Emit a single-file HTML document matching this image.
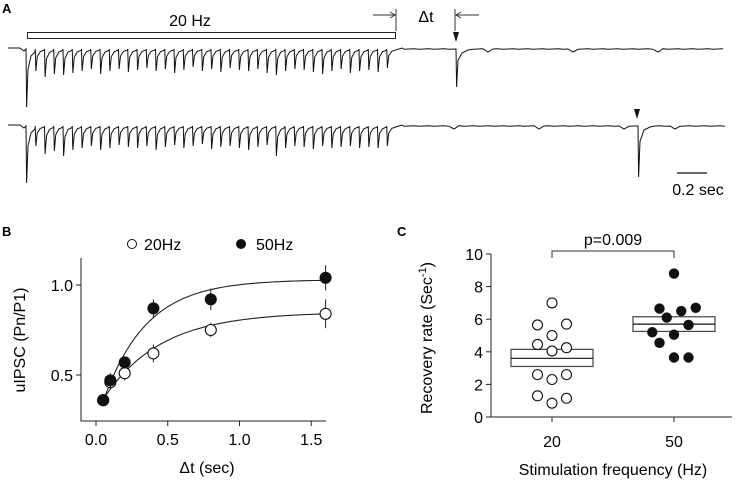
<!DOCTYPE html>
<html><head><meta charset="utf-8"><style>
body{margin:0;background:#fff}
svg{display:block;font-family:"Liberation Sans",sans-serif}
</style></head><body>
<svg id="fig" width="736" height="482" viewBox="0 0 736 482" xmlns="http://www.w3.org/2000/svg">
<g id="panelA">
<text x="2" y="13" font-size="13" font-weight="bold">A</text>
<rect x="27.5" y="32.5" width="368" height="6" fill="#fff" stroke="#222"/>
<text x="190" y="26" font-size="16" text-anchor="middle">20 Hz</text>
<line x1="396" y1="9" x2="396" y2="31" stroke="#333"/>
<line x1="373" y1="15" x2="395" y2="15" stroke="#333"/>
<path d="M390,12 L395,15 L390,18" fill="none" stroke="#333"/>
<text x="426" y="22" font-size="16" text-anchor="middle">Δt</text>
<line x1="455" y1="9" x2="455" y2="31" stroke="#333"/>
<line x1="456" y1="15" x2="479" y2="15" stroke="#333"/>
<path d="M461,12 L456,15 L461,18" fill="none" stroke="#333"/>
<path d="M453,32 L459,32 L456,42 Z" fill="#111"/>
<path d="M634,109 L640,109 L637,119 Z" fill="#111"/>
<line x1="677" y1="173" x2="707" y2="173" stroke="#111" stroke-width="1.2"/>
<text x="698" y="195" font-size="16" text-anchor="middle">0.2 sec</text>
</g>
<g id="panelB">
<text x="2" y="236" font-size="13" font-weight="bold">B</text>
</g>
<g id="panelC">
<text x="397" y="236" font-size="13" font-weight="bold">C</text>
</g>
</svg>
<script>
// Panel A trace data
const trainAmps1=[58,22,28,25,26,24,22,20,25,22,20,23,21,19,22,20,24,21,18,22,20,23,19,21,22,20,24,26,22,20,21,23,25,22,20,24,22,21,23,19];
const trainAmps2=[57,20,28,25,30,24,22,20,24,22,19,21,22,20,24,21,19,22,20,18,23,21,20,22,24,21,19,30,22,20,21,23,20,22,21,20,22,21,22,20];
const testAmp1=38, testAmp2=51;
// Panel B data
const dtVals=[0.05,0.1,0.2,0.4,0.8,1.6];
const hz20=[0.36,0.46,0.51,0.62,0.75,0.84];
const hz20Err=[0.03,0.04,0.04,0.05,0.04,0.08];
const hz50=[0.36,0.47,0.57,0.87,0.92,1.04];
const hz50Err=[0.03,0.04,0.03,0.05,0.06,0.07];
const bXTicks=[0,0.5,1.0,1.5];
const bYTicks=[0.5,1.0];
const fit20=[0.85,0.55,0.4];
const fit50=[1.03,0.8,0.3];
// Panel C data
const cCats=["20","50"];
const rate20=[7.0,5.65,5.7,5.0,4.45,4.25,4.05,2.6,2.6,2.3,1.3,1.15,0.85];
const jit20=[0,-1,1,0,-1,1,0,-1,1,0,-1,1,0];
const rate50=[8.8,6.65,6.1,6.5,6.7,5.2,5.05,5.65,4.55,3.65,3.65];
const jit50=[0,-1,-0.5,0.5,1.5,-1.5,0,1,-1,0,1];
const box20=[3.1,3.6,4.15];
const box50=[5.25,5.7,6.15];
const cYTicks=[0,2,4,6,8,10];

const NS="http://www.w3.org/2000/svg";
function mk(parent,tag,attrs){const e=document.createElementNS(NS,tag);for(const k in attrs)e.setAttribute(k,attrs[k]);parent.appendChild(e);return e;}
const A=document.getElementById('panelA'),B=document.getElementById('panelB'),C=document.getElementById('panelC');

// Traces
function trace(base,amps,testX,testAmp,name){
  let d=`M8,${base-1} L20,${base-1} L24,${base+2}`;
  const x0=26,sp=9.25;
  amps.forEach((a,i)=>{const x=x0+i*sp;d+=` L${x},${base} L${x+0.6},${base+a} L${x+2},${base+a*0.35} L${x+5},${base+a*0.12} L${x+sp-0.2},${base+a*0.05}`;});
  const end=x0+amps.length*sp;
  d+=` L${end+6},${base-1}`;
  for(let x=end+8;x<727;x+=5){
    if(Math.abs(x-testX)<3){d+=` L${testX},${base} L${testX+0.6},${base+testAmp} L${testX+2},${base+testAmp*0.3} L${testX+6},${base+4} L${testX+12},${base+1}`;x=testX+12;continue;}
    const k=(x*13)%17;
    d+=` L${x},${base+(k===3?3:((x*7)%3)*0.3-0.3)}`;
  }
  const p=mk(A,'path',{d:d,fill:'none',stroke:'#111','stroke-width':1});
  
  
}
trace(49,trainAmps1,456,testAmp1,'trace-20hz');
trace(126,trainAmps2,638,testAmp2,'trace-20hz-long-interval');

// Panel B
const bx=v=>96+v*143.5, by=v=>375-(v-0.5)*180;
let l=mk(B,'path',{d:'M81,258 L81,421 L326,421',fill:'none',stroke:'#222'});

bXTicks.forEach(t=>{const g=mk(B,'g',{});
 mk(g,'line',{x1:bx(t),x2:bx(t),y1:421,y2:426,stroke:'#222'});
 const tx=mk(g,'text',{x:bx(t),y:445,'font-size':16,'text-anchor':'middle'});tx.textContent=t.toFixed(1);});
bYTicks.forEach(t=>{const g=mk(B,'g',{});
 mk(g,'line',{x1:76,x2:81,y1:by(t),y2:by(t),stroke:'#222'});
 const tx=mk(g,'text',{x:73,y:by(t)+6,'font-size':16,'text-anchor':'end'});tx.textContent=t.toFixed(1);});
let t=mk(B,'text',{x:207,y:473,'font-size':16,'text-anchor':'middle'});t.textContent='Δt (sec)';

t=mk(B,'text',{x:0,y:0,'font-size':16,'text-anchor':'middle',transform:'translate(25,340) rotate(-90)'});t.textContent='uIPSC (Pn/P1)';

function fitPath(p){let d='';for(let s=0.05;s<=1.6001;s+=0.02){const y=p[0]-p[1]*Math.exp(-s/p[2]);d+=(d?' L':'M')+bx(s).toFixed(1)+','+by(y).toFixed(1);}return d;}
l=mk(B,'path',{d:fitPath(fit20),fill:'none',stroke:'#222','stroke-width':1.1});
l=mk(B,'path',{d:fitPath(fit50),fill:'none',stroke:'#222','stroke-width':1.1});
function series(vals,errs,fill,name){vals.forEach((v,i)=>{const g=mk(B,'g',{});
 mk(g,'line',{x1:bx(dtVals[i]),x2:bx(dtVals[i]),y1:by(v-errs[i]),y2:by(v+errs[i]),stroke:'#222'});
 mk(g,'circle',{cx:bx(dtVals[i]),cy:by(v),r:5.5,fill:fill,stroke:'#111','stroke-width':1.1});});}
series(hz20,hz20Err,'#fff','point-20hz');
series(hz50,hz50Err,'#111','point-50hz');
let g=mk(B,'g',{});
mk(g,'circle',{cx:132,cy:244,r:4.5,fill:'#fff',stroke:'#111'});t=mk(g,'text',{x:144,y:250,'font-size':16});t.textContent='20Hz';
g=mk(B,'g',{});
mk(g,'circle',{cx:241,cy:244,r:5,fill:'#111'});t=mk(g,'text',{x:256,y:250,'font-size':16});t.textContent='50Hz';

// Panel C
const cx=i=>552+i*122, cy=v=>417-v*16.3;
l=mk(C,'path',{d:'M491,254 L491,417 L732,417',fill:'none',stroke:'#222'});
cYTicks.forEach(v=>{const g=mk(C,'g',{});
 mk(g,'line',{x1:486,x2:491,y1:cy(v),y2:cy(v),stroke:'#222'});
 const tx=mk(g,'text',{x:483,y:cy(v)+6,'font-size':16,'text-anchor':'end'});tx.textContent=v;});
cCats.forEach((c,i)=>{const g=mk(C,'g',{});
 mk(g,'line',{x1:cx(i),x2:cx(i),y1:417,y2:422,stroke:'#222'});
 const tx=mk(g,'text',{x:cx(i),y:447,'font-size':16,'text-anchor':'middle'});tx.textContent=c;});
t=mk(C,'text',{x:613,y:475,'font-size':16,'text-anchor':'middle'});t.textContent='Stimulation frequency (Hz)';

t=mk(C,'text',{x:0,y:0,'font-size':16,'text-anchor':'middle',transform:'translate(432,338) rotate(-90)'});
t.innerHTML='Recovery rate (Sec<tspan dy="-6" font-size="11">-1</tspan><tspan dy="6">)</tspan>';

function box(b,i,name){const g=mk(C,'g',{});
 mk(g,'rect',{x:cx(i)-41,y:cy(b[2]),width:82,height:cy(b[0])-cy(b[2]),fill:'#fff',stroke:'#444','stroke-width':1.2});
 mk(g,'line',{x1:cx(i)-41,x2:cx(i)+41,y1:cy(b[1]),y2:cy(b[1]),stroke:'#111','stroke-width':1.2});}
box(box20,0,'box-20hz');box(box50,1,'box-50hz');
rate20.forEach((v,k)=>{const c=mk(C,'circle',{cx:cx(0)+jit20[k]*14.5,cy:cy(v),r:5,fill:'#fff',stroke:'#111','stroke-width':1.1});
 });
rate50.forEach((v,k)=>{const c=mk(C,'circle',{cx:cx(1)+jit50[k]*14.5,cy:cy(v),r:5.2,fill:'#111'});
 });
l=mk(C,'path',{d:`M${cx(0)},258 L${cx(0)},251 L${cx(1)},251 L${cx(1)},258`,fill:'none',stroke:'#333'});

t=mk(C,'text',{x:613,y:245,'font-size':16,'text-anchor':'middle'});t.textContent='p=0.009';

</script>
</body></html>
